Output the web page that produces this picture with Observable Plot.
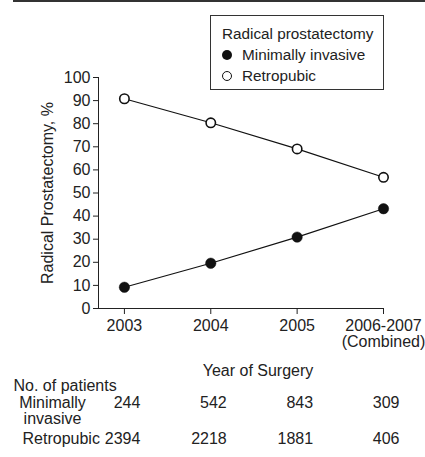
<!DOCTYPE html>
<html><head><meta charset="utf-8">
<script src="https://cdn.jsdelivr.net/npm/d3@7"></script>
<script src="https://cdn.jsdelivr.net/npm/@observablehq/plot@0.6"></script>
<style>
body{margin:0;background:#fff;font-family:"Liberation Sans",Arial,sans-serif;color:#222;}
#wrap{position:relative;width:425px;height:457px;overflow:hidden;}
#rule{position:absolute;left:13px;top:0;width:412px;height:2px;background:#333;}
#legend{position:absolute;left:210px;top:15px;width:172px;height:73px;border:1px solid #333;background:#fff;font-size:15.3px;line-height:16px;}
#legend .txt{position:absolute;white-space:nowrap;}
#legend .sym{position:absolute;width:10px;height:10px;border-radius:50%;box-sizing:border-box;}
</style></head><body>
<div id="wrap"><div id="rule"></div></div>
<script>
const years = ["2003", "2004", "2005", "2006-2007\n(Combined)"];
const seriesNames = ["Minimally invasive", "Retropubic"];
const minimallyInvasive = [9.2, 19.6, 30.9, 43.2];
const retropubic = [90.8, 80.4, 69.1, 56.8];
const minimallyCounts = [244, 542, 843, 309];
const retropubicCounts = [2394, 2218, 1881, 406];
const yTicks = [0, 10, 20, 30, 40, 50, 60, 70, 80, 90, 100];

const idx = years.map((_, i) => i);
const minRows = idx.map(i => ({i, value: minimallyInvasive[i], count: minimallyCounts[i]}));
const retRows = idx.map(i => ({i, value: retropubic[i], count: retropubicCounts[i]}));

const ink = "#222";
const fs = 16;
const below = {frameAnchor: "bottom", lineAnchor: "middle", fontSize: fs, fill: ink};
const belowLeft = {frameAnchor: "bottom-left", lineAnchor: "middle", fontSize: fs, fill: ink};

const chart = Plot.plot({
  width: 425,
  height: 457,
  marginLeft: 98,
  marginRight: 42,
  marginTop: 77,
  marginBottom: 149,
  style: {fontFamily: "'Liberation Sans', Arial, sans-serif", fontSize: fs + "px", color: ink, background: "transparent"},
  x: {type: "linear", domain: [-0.3, idx.length - 1]},
  y: {domain: [0, 100]},
  marks: [
    Plot.frame({anchor: "left", stroke: ink}),
    Plot.frame({anchor: "bottom", stroke: ink}),
    Plot.axisX({ticks: idx, tickFormat: i => years[i], tickSize: 6, tickPadding: 5, fontSize: fs, lineHeight: 1, label: null}),
    Plot.axisY({ticks: yTicks, tickSize: 5, tickPadding: 3, fontSize: fs, label: null}),
    Plot.text(["Radical Prostatectomy, %"], {frameAnchor: "left", textAnchor: "middle", rotate: -90, dx: -51, fontSize: fs, fill: ink}),
    Plot.text(["Year of Surgery"], {...below, dx: 17, dy: 62}),
    Plot.line(minRows, {x: "i", y: "value", stroke: "#111", strokeWidth: 1.2}),
    Plot.line(retRows, {x: "i", y: "value", stroke: "#111", strokeWidth: 1.2}),
    Plot.dot(minRows, {x: "i", y: "value", r: 5.2, fill: "#111", stroke: "#111", strokeWidth: 0.5}),
    Plot.dot(retRows, {x: "i", y: "value", r: 4.7, fill: "#fff", stroke: "#111", strokeWidth: 1.6}),
    Plot.text(["No. of patients"], {...belowLeft, textAnchor: "start", dx: -85, dy: 77}),
    Plot.text(["Minimally\ninvasive"], {...belowLeft, textAnchor: "middle", dx: -46, dy: 102, lineHeight: 1}),
    Plot.text(["Retropubic"], {...belowLeft, textAnchor: "start", dx: -76, dy: 130}),
    Plot.text(minRows, {...below, x: "i", text: d => String(d.count), textAnchor: "end", dx: 16, dy: 94}),
    Plot.text(retRows, {...below, x: "i", text: d => String(d.count), textAnchor: "end", dx: 16, dy: 130})
  ]
});
const wrap = document.getElementById("wrap");
chart.style.position = "absolute";
chart.style.left = "0";
chart.style.top = "0";
wrap.appendChild(chart);

const legend = document.createElement("div");
legend.id = "legend";
const t = document.createElement("div");
t.className = "txt";
t.style.left = "11px";
t.style.top = "10px";
t.textContent = "Radical prostatectomy";
legend.appendChild(t);
seriesNames.forEach((name, k) => {
  const s = document.createElement("div");
  s.className = "sym";
  s.style.left = "11px";
  s.style.top = (34 + k * 21) + "px";
  if (k === 0) { s.style.background = "#111"; }
  else { s.style.background = "#fff"; s.style.border = "1.6px solid #111"; }
  legend.appendChild(s);
  const tx = document.createElement("div");
  tx.className = "txt";
  tx.style.left = "31px";
  tx.style.top = (31 + k * 20.5) + "px";
  tx.textContent = name;
  legend.appendChild(tx);
});
wrap.appendChild(legend);
</script>
</body></html>
